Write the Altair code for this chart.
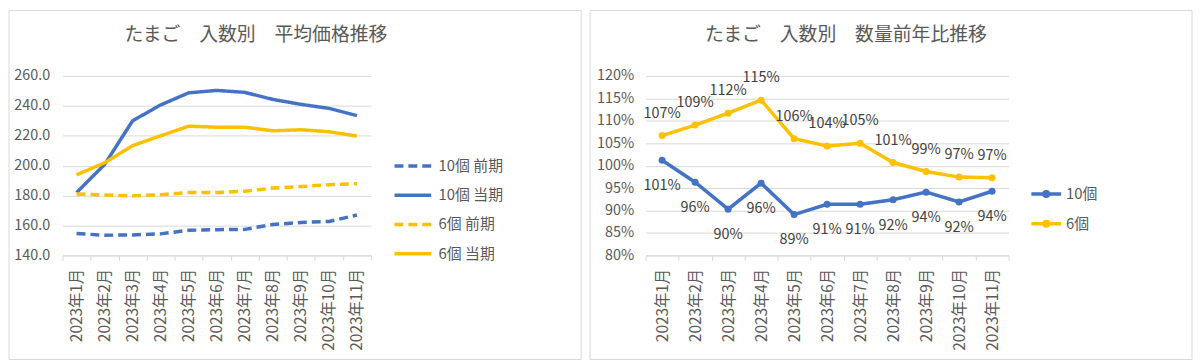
import altair as alt
import pandas as pd

FONT = "Noto Sans CJK JP"

months = ["2023年1月", "2023年2月", "2023年3月", "2023年4月", "2023年5月", "2023年6月",
          "2023年7月", "2023年8月", "2023年9月", "2023年10月", "2023年11月"]

series_names = ["10個 前期", "10個 当期", "6個 前期", "6個 当期"]
price_10_prev = [154.6, 153.5, 153.7, 154.4, 156.8, 157.2, 157.4, 160.7, 162.0, 162.7, 167.0]
price_10_curr = [182.0, 200.8, 230.0, 240.6, 248.7, 250.3, 249.0, 244.3, 241.0, 238.3, 233.5]
price_6_prev = [181.1, 180.4, 179.8, 180.6, 182.0, 182.0, 182.9, 185.0, 186.0, 187.3, 188.0]
price_6_curr = [193.9, 201.9, 213.4, 220.0, 226.4, 225.7, 225.7, 223.3, 224.0, 222.7, 219.8]

groups = ["10個", "6個"]
yoy_10 = [1.012, 0.963, 0.903, 0.961, 0.891, 0.914, 0.914, 0.924, 0.941, 0.919, 0.943]
yoy_6 = [1.067, 1.0905, 1.117, 1.146, 1.060, 1.044, 1.050, 1.007, 0.987, 0.9745, 0.973]

price_ticks = [140, 160, 180, 200, 220, 240, 260]
ratio_ticks = [0.80, 0.85, 0.90, 0.95, 1.00, 1.05, 1.10, 1.15, 1.20]

BLUE = "#4472C4"
YELLOW = "#FFC000"
GRID = "#D9D9D9"
TXT = "#595959"

price_df = pd.DataFrame({
    "month": months * 4,
    "series": [s for s in series_names for _ in months],
    "price": price_10_prev + price_10_curr + price_6_prev + price_6_curr,
})
yoy_df = pd.DataFrame({
    "month": months * 2,
    "group": [g for g in groups for _ in months],
    "ratio": yoy_10 + yoy_6,
})


def x_enc():
    return alt.X("month:N", sort=months,
                 scale=alt.Scale(type="band", paddingInner=0, paddingOuter=0),
                 axis=alt.Axis(title=None, labelAngle=-90, tickBand="extent", tickSize=5,
                               labelPadding=8, labelFontSize=15.5, grid=False,
                               domain=True, ticks=True))


# ---------- left chart ----------
frame_left = alt.Chart(alt.Data(values=[{}])).mark_rect(
    filled=False, stroke=GRID, strokeWidth=1
).encode(x=alt.value(-54), x2=alt.value(523), y=alt.value(-66), y2=alt.value(286))

left_legend = alt.Legend(title=None, orient="none", legendX=342.25, legendY=79.75,
                         symbolType="M-2,0L2,0", symbolSize=342, symbolStrokeWidth=3.5,
                         labelOffset=15, labelFontSize=15, labelFont=FONT, labelColor=TXT,
                         rowPadding=10.5)

lines_left = alt.Chart(price_df).mark_line(strokeWidth=3.5).encode(
    x=x_enc(),
    y=alt.Y("price:Q", scale=alt.Scale(domain=[140, 260], nice=False, zero=False),
            axis=alt.Axis(title=None, values=price_ticks, format=".1f", grid=True,
                          domain=False, ticks=False, labelPadding=13)),
    color=alt.Color("series:N", sort=series_names,
                    scale=alt.Scale(domain=series_names, range=[BLUE, BLUE, YELLOW, YELLOW]),
                    legend=left_legend),
    strokeDash=alt.StrokeDash("series:N", sort=series_names,
                              scale=alt.Scale(domain=series_names,
                                              range=[[9, 5], [1, 0], [9, 5], [1, 0]]),
                              legend=left_legend),
)

left = alt.layer(frame_left, lines_left).properties(
    width=311, height=181,
    title=alt.TitleParams("たまご　入数別　平均価格推移", anchor="middle", frame="group",
                          dx=39.5, offset=-35),
)

# ---------- right chart ----------
frame_right = alt.Chart(alt.Data(values=[{}])).mark_rect(
    filled=False, stroke=GRID, strokeWidth=1
).encode(x=alt.value(-56), x2=alt.value(551), y=alt.value(-66), y2=alt.value(286))

right_legend = alt.Legend(title=None, orient="none", legendX=394.5, legendY=109.5,
                          symbolType="M-2,0L2,0M-0.3,0A0.3,0.3 0 1,1 0.3,0A0.3,0.3 0 1,1 -0.3,0",
                          symbolSize=225, symbolStrokeWidth=3.5,
                          labelOffset=10.5, labelFontSize=15, labelFont=FONT, labelColor=TXT,
                          rowPadding=11)

y_ratio = alt.Y("ratio:Q", scale=alt.Scale(domain=[0.8, 1.2], nice=False, zero=False),
                axis=alt.Axis(title=None, values=ratio_ticks, format=".0%", grid=True,
                              domain=False, ticks=False, labelPadding=12))
color_ratio = alt.Color("group:N", sort=groups,
                        scale=alt.Scale(domain=groups, range=[BLUE, YELLOW]),
                        legend=right_legend)

base_r = alt.Chart(yoy_df).encode(x=x_enc(), y=y_ratio, color=color_ratio)
line_r = base_r.mark_line(strokeWidth=3.5)
pts_r = base_r.mark_circle(size=50, opacity=1)
lab_6 = alt.Chart(yoy_df).transform_filter(alt.datum.group == "6個").transform_calculate(
    label="format(datum.ratio, '.0%')"
).mark_text(dy=-22, fontSize=14.5, font=FONT, color="#404040").encode(
    x=x_enc(), y=y_ratio, text="label:N")
lab_10 = alt.Chart(yoy_df).transform_filter(alt.datum.group == "10個").transform_calculate(
    label="format(datum.ratio, '.0%')"
).mark_text(dy=26, fontSize=14.5, font=FONT, color="#404040").encode(
    x=x_enc(), y=y_ratio, text="label:N")

right = alt.layer(frame_right, line_r, pts_r, lab_6, lab_10).properties(
    width=366, height=181,
    title=alt.TitleParams("たまご　入数別　数量前年比推移", anchor="middle", frame="group",
                          dx=19, offset=-35),
)

chart = alt.hconcat(left, right, spacing=7).resolve_scale(
    color="independent", strokeDash="independent", x="independent", y="independent"
).resolve_legend(
    color="independent", strokeDash="independent"
).properties(
    padding=0, background="white"
).configure_view(stroke=None).configure_axis(
    labelFont=FONT, labelFontSize=14.5, labelColor=TXT,
    gridColor=GRID, domainColor=GRID, tickColor=GRID,
).configure_title(
    font=FONT, fontSize=19, color=TXT, fontWeight="normal"
)

chart.save("out.html", embed_options={"renderer": "svg", "actions": False})
